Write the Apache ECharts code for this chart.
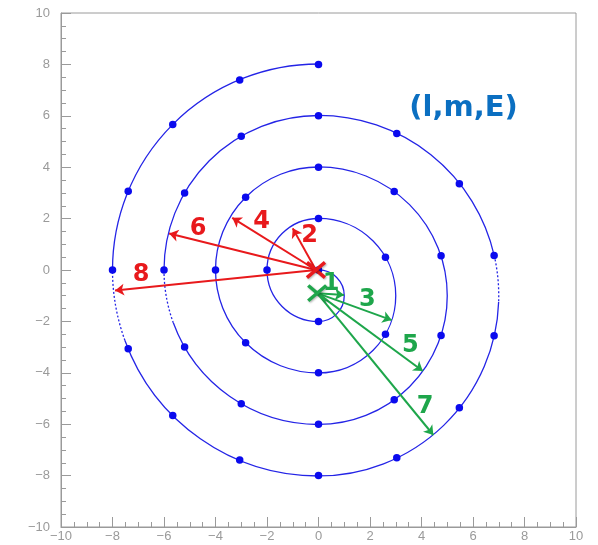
<!DOCTYPE html>
<html><head><meta charset="utf-8">
<script src="https://cdn.jsdelivr.net/npm/echarts@6/dist/echarts.min.js"></script>
<style>html,body{margin:0;padding:0;background:#fff}#c{width:598px;height:545px}</style>
</head><body><div id="c"></div>
<script>
// Axis ticks
const axisMin = -10, axisMax = 10, axisStep = 2;

// Spiral arcs: [centerX, centerY, radius, startDeg, endDeg] (math degrees, drawn clockwise)
const solidArcs = [
  [0, -1, 1, 90, -90],
  [0, 0, 2, 270, 90],
  [0, -1, 3, 90, -90],
  [0, 0, 4, 270, 90],
  [0, -1, 5, 90, -90],
  [0, 0, 6, 270, 200], [0, 0, 6, 180, 90],
  [0, -1, 7, 90, 12.86], [0, -1, 7, -2, -90],
  [0, 0, 8, 270, 200], [0, 0, 8, 180, 90]
];
const dottedArcs = [
  [0, 0, 6, 200, 180],
  [0, 0, 8, 200, 180],
  [0, -1, 7, 12.86, -2]
];

// Dots along the spiral
const spiralDots = [
  [0, 0], [0, -2],
  [-2, 0], [0, 2],
  [2.6, 0.5], [2.6, -2.5], [0, -4],
  [-2.83, -2.83], [-4, 0], [-2.83, 2.83], [0, 4],
  [2.94, 3.05], [4.76, 0.55], [4.76, -2.55], [2.94, -5.05], [0, -6],
  [-3, -5.2], [-5.2, -3], [-6, 0], [-5.2, 3], [-3, 5.2], [0, 6],
  [3.04, 5.31], [5.47, 3.36], [6.82, 0.56], [6.82, -2.56], [5.47, -5.36], [3.04, -7.31], [0, -8],
  [-3.06, -7.39], [-5.66, -5.66], [-7.39, -3.06], [-8, 0], [-7.39, 3.06], [-5.66, 5.66], [-3.06, 7.39], [0, 8]
];

// Origins of the arrows (X markers)
const redOrigin = [-0.1, 0];
const greenOrigin = [-0.05, -0.9];

// Arrow tips
const redTips = [[-1.0, 1.62], [-3.35, 2.03], [-5.8, 1.42], [-7.9, -0.8]];
const greenTips = [[0.99, -0.97], [2.84, -1.95], [4.05, -3.93], [4.46, -6.42]];

// Arrow number labels [x, y, text]
const redLabels = [[-0.35, 1.34, '2'], [-2.21, 1.89, '4'], [-4.68, 1.6, '6'], [-6.89, -0.19, '8']];
const greenLabels = [[0.49, -0.54, '1'], [1.9, -1.17, '3'], [3.57, -2.96, '5'], [4.14, -5.33, '7']];

const titleText = '(l,m,E)';
const titlePos = [5.63, 6.3];

const RED = '#e8191c', GREEN = '#1ea64b', BLUE = '#2424e6', DOT = '#0a0aee';

function fmt(v) { return v < 0 ? '\u2212' + Math.abs(v) : String(v); }

function arcRender(dash) {
  return function (params, api) {
    const c = api.coord([api.value(0), api.value(1)]);
    const r = api.size([api.value(2), 0])[0];
    const s = -api.value(3) * Math.PI / 180, e = -api.value(4) * Math.PI / 180;
    return {
      type: 'arc',
      shape: { cx: c[0], cy: c[1], r: r, startAngle: s, endAngle: e, clockwise: true },
      style: { stroke: BLUE, lineWidth: 1.3, fill: null, lineDash: dash }
    };
  };
}

function crossRender(color) {
  return function (params, api) {
    const c = api.coord([api.value(0), api.value(1)]);
    const h = 9;
    const st = { stroke: color, lineWidth: 3.5, shadowBlur: 2, shadowColor: 'rgba(0,0,0,0.3)', shadowOffsetX: 1, shadowOffsetY: 1 };
    return {
      type: 'group', children: [
        { type: 'line', shape: { x1: c[0] - h, y1: c[1] - h * 0.85, x2: c[0] + h, y2: c[1] + h * 0.85 }, style: st },
        { type: 'line', shape: { x1: c[0] - h, y1: c[1] + h * 0.85, x2: c[0] + h, y2: c[1] - h * 0.85 }, style: st }
      ]
    };
  };
}

function textRender(color, size, family) {
  return function (params, api) {
    const d = params.dataIndex;
    const arr = params.seriesName === 'rl' ? redLabels : params.seriesName === 'gl' ? greenLabels : null;
    const txt = arr ? arr[d][2] : titleText;
    const c = api.coord([api.value(0), api.value(1)]);
    return {
      type: 'text', x: c[0], y: c[1],
      style: { text: txt, fill: color, font: 'bold ' + size + 'px ' + family, align: 'center', verticalAlign: 'middle' }
    };
  };
}

function axisCommon() {
  return {
    type: 'value', min: axisMin, max: axisMax, interval: axisStep,
    axisLine: { show: true, onZero: false, lineStyle: { color: '#9a9a9a', width: 1 } },
    axisTick: { show: true, inside: true, length: 10, lineStyle: { color: '#9a9a9a' } },
    minorTick: { show: true, splitNumber: 4, length: 5, lineStyle: { color: '#9a9a9a' } },
    splitLine: { show: false },
    axisLabel: { color: '#9a9a9a', fontSize: 13, fontFamily: 'Liberation Sans', formatter: fmt }
  };
}

const chart = echarts.init(document.getElementById('c'));
const xA = axisCommon(); xA.axisLabel.margin = 3;
const yA = axisCommon(); yA.axisLabel.margin = 11;
chart.setOption({
  animation: false,
  grid: { left: 61, right: 22, top: 13, bottom: 18, show: true, borderColor: '#9a9a9a', borderWidth: 1 },
  xAxis: xA,
  yAxis: yA,
  series: [
    { type: 'custom', name: 'arcs', renderItem: arcRender(null), data: solidArcs, z: 2, silent: true },
    { type: 'custom', name: 'darcs', renderItem: arcRender([2, 2]), data: dottedArcs, z: 2, silent: true },
    { type: 'scatter', data: spiralDots, symbolSize: 7.5, itemStyle: { color: DOT, opacity: 1 }, z: 3 },
    {
      type: 'lines', coordinateSystem: 'cartesian2d', z: 4,
      symbol: ['none', 'arrow'], symbolSize: 9,
      lineStyle: { color: RED, width: 2, opacity: 1 },
      data: redTips.map(t => ({ coords: [redOrigin, t] }))
    },
    {
      type: 'lines', coordinateSystem: 'cartesian2d', z: 4,
      symbol: ['none', 'arrow'], symbolSize: 9,
      lineStyle: { color: GREEN, width: 2, opacity: 1 },
      data: greenTips.map(t => ({ coords: [greenOrigin, t] }))
    },
    { type: 'custom', name: 'rx', renderItem: crossRender(RED), data: [redOrigin], z: 5 },
    { type: 'custom', name: 'gx', renderItem: crossRender(GREEN), data: [greenOrigin], z: 5 },
    { type: 'custom', name: 'rl', renderItem: textRender(RED, 24, 'DejaVu Sans'), data: redLabels.map(l => [l[0], l[1]]), z: 6 },
    { type: 'custom', name: 'gl', renderItem: textRender(GREEN, 24, 'DejaVu Sans'), data: greenLabels.map(l => [l[0], l[1]]), z: 6 },
    { type: 'custom', name: 'title', renderItem: textRender('#0b6fc1', 29, 'DejaVu Sans'), data: [titlePos], z: 6 }
  ]
});
</script></body></html>
